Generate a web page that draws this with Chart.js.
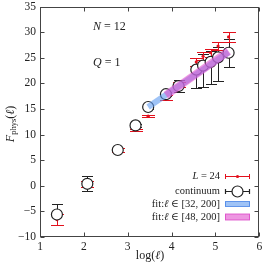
<!DOCTYPE html>
<html>
<head>
<meta charset="utf-8">
<script src="https://cdn.jsdelivr.net/npm/chart.js@4.4.1/dist/chart.umd.min.js"></script>
<style>html,body{margin:0;padding:0;background:#fff}</style>
</head>
<body>
<canvas id="c" width="266" height="266"></canvas>
<script>
// x = log(l)
const logL = [1.386, 2.079, 2.773, 3.178, 3.466, 3.871, 4.159, 4.564, 4.718, 4.89, 5.06, 5.30];
const contY = [-5.6, 0.4, 7.0, 11.8, 15.4, 17.9, 19.5, 22.7, 23.5, 24.2, 25.1, 26.0];
const contUp = [2.1, 1.5, 0.3, 0.3, 0.3, 0.4, 1.2, 2.2, 2.2, 2.2, 2.1, 2.6];
const contDown = [2.1, 1.5, 0.3, 0.3, 0.3, 0.4, 1.2, 3.6, 4.2, 4.4, 4.7, 2.7];
const l24Y = [-6.6, 0.3, 7.0, 10.9, 13.6, 17.3, 19.8, 24.2, 25.3, 26.0, 27.3, 29.1];
const l24Err = [1.1, 0.6, 0.3, 0.2, 0.2, 0.5, 0.5, 0.7, 0.8, 0.8, 0.8, 0.9];
const fit32X = [3.466, 5.30];
const fit32Y = [15.4, 26.1];
const fit48X = [3.871, 5.30];
const fit48Y = [17.7, 26.3];
const xTicks = [1, 2, 3, 4, 5, 6];
const yTicks = [-10, -5, 0, 5, 10, 15, 20, 25, 30, 35];

const FONT = "'Liberation Serif', 'DejaVu Serif', serif";
const RED = "#e3101c";
const INK = "#222";
const BLUE = "rgba(95,155,240,0.6)";
const PINK = "rgba(225,80,205,0.6)";

function pts(xs, ys) {
    return xs.map((x, i) => ({ x: x, y: ys[i] }));
}

function drawParts(ctx, parts, x, y, align) {
    let w = 0;
    parts.forEach(p => { ctx.font = p[1]; w += ctx.measureText(p[0]).width; });
    let cx = align === "right" ? x - w : (align === "center" ? x - w / 2 : x);
    parts.forEach(p => {
        ctx.font = p[1];
        ctx.fillText(p[0], cx, y + (p[2] || 0));
        cx += ctx.measureText(p[0]).width;
    });
}

const errorBars = {
    id: "errorBars",
    beforeDatasetsDraw(chart) {
        const ctx = chart.ctx;
        const xs = chart.scales.x, ys = chart.scales.y;
        ctx.save();
        ctx.lineWidth = 1;
        const bar = (x, v, up, down, half, color) => {
            const px = Math.round(xs.getPixelForValue(x)) + 0.5;
            const t = Math.round(ys.getPixelForValue(v + up)) + 0.5;
            const b = Math.round(ys.getPixelForValue(v - down)) + 0.5;
            ctx.strokeStyle = color;
            ctx.beginPath();
            ctx.moveTo(px, t); ctx.lineTo(px, b);
            ctx.moveTo(px - half, t); ctx.lineTo(px + half, t);
            ctx.moveTo(px - half, b); ctx.lineTo(px + half, b);
            ctx.stroke();
        };
        logL.forEach((x, i) => bar(x, contY[i], contUp[i], contDown[i], 5.5, INK));
        logL.forEach((x, i) => bar(x, l24Y[i], l24Err[i], l24Err[i], 6.5, RED));
        ctx.restore();
    }
};

const frame = {
    id: "frame",
    afterDraw(chart) {
        const ctx = chart.ctx;
        const a = chart.chartArea;
        const xs = chart.scales.x, ys = chart.scales.y;
        const L = Math.round(a.left) + 0.5, R = Math.round(a.right) - 0.5;
        const T = Math.round(a.top) + 0.5, B = Math.round(a.bottom) - 0.5;
        ctx.save();
        ctx.strokeStyle = "#444";
        ctx.lineWidth = 1;
        ctx.strokeRect(L, T, R - L, B - T);
        ctx.beginPath();
        xTicks.forEach(v => {
            const px = Math.round(xs.getPixelForValue(v)) + 0.5;
            ctx.moveTo(px, B); ctx.lineTo(px, B - 4);
            ctx.moveTo(px, T); ctx.lineTo(px, T + 4);
        });
        yTicks.forEach(v => {
            const py = Math.round(ys.getPixelForValue(v)) + 0.5;
            ctx.moveTo(L, py); ctx.lineTo(L + 4, py);
            ctx.moveTo(R, py); ctx.lineTo(R - 4, py);
        });
        ctx.stroke();

        ctx.fillStyle = INK;
        ctx.font = "11.5px " + FONT;
        ctx.textBaseline = "middle";
        ctx.textAlign = "center";
        xTicks.forEach(v => ctx.fillText(String(v), xs.getPixelForValue(v), 247));
        ctx.textAlign = "right";
        yTicks.forEach(v => ctx.fillText(String(v).replace("-", "\u2212"), 36, ys.getPixelForValue(v)));

        ctx.textAlign = "left";
        const it = "italic 12px " + FONT, rm = "12px " + FONT;
        drawParts(ctx, [["log(", rm], ["\u2113", it], [")", rm]], 150, 256, "center");
        drawParts(ctx, [["N", it], [" = 12", rm]], 93, 27, "left");
        drawParts(ctx, [["Q", it], [" = 1", rm]], 93, 63, "left");

        ctx.save();
        ctx.translate(11, 124);
        ctx.rotate(-Math.PI / 2);
        drawParts(ctx, [["F", it], ["phys", "8.5px " + FONT, 3], ["(", rm], ["\u2113", it], [")", rm]], 0, 0, "center");
        ctx.restore();

        // legend
        const lf = "10.5px " + FONT, li = "italic 10.5px " + FONT;
        const rows = [176, 191, 204, 217];
        drawParts(ctx, [["L", li], [" = 24", lf]], 220, rows[0], "right");
        drawParts(ctx, [["continuum", lf]], 220, rows[1], "right");
        drawParts(ctx, [["fit:", lf], ["\u2113", li], [" \u2208 [32, 200]", lf]], 220, rows[2], "right");
        drawParts(ctx, [["fit:", lf], ["\u2113", li], [" \u2208 [48, 200]", lf]], 220, rows[3], "right");

        const x0 = 225, x1 = 250, xm = 237.5;
        ctx.lineWidth = 1;
        ctx.strokeStyle = RED;
        ctx.beginPath();
        let y = rows[0] + 0.5;
        ctx.moveTo(x0, y); ctx.lineTo(x1, y);
        ctx.moveTo(x0 + 0.5, y - 2.5); ctx.lineTo(x0 + 0.5, y + 2.5);
        ctx.moveTo(x1 - 0.5, y - 2.5); ctx.lineTo(x1 - 0.5, y + 2.5);
        ctx.stroke();
        ctx.fillStyle = RED;
        ctx.beginPath(); ctx.arc(xm, y, 1.6, 0, Math.PI * 2); ctx.fill();

        ctx.strokeStyle = INK;
        ctx.lineWidth = 1.2;
        y = rows[1] + 0.5;
        ctx.beginPath();
        ctx.moveTo(x0, y); ctx.lineTo(x1, y);
        ctx.moveTo(x0 + 0.5, y - 2.5); ctx.lineTo(x0 + 0.5, y + 2.5);
        ctx.moveTo(x1 - 0.5, y - 2.5); ctx.lineTo(x1 - 0.5, y + 2.5);
        ctx.stroke();
        ctx.fillStyle = "#fff";
        ctx.beginPath(); ctx.arc(xm, y, 5.5, 0, Math.PI * 2); ctx.fill(); ctx.stroke();

        ctx.lineWidth = 1;
        ctx.fillStyle = BLUE;
        ctx.strokeStyle = "rgba(70,130,230,0.8)";
        ctx.fillRect(x0, rows[2] - 2.5, x1 - x0, 5);
        ctx.strokeRect(x0 + 0.5, rows[2] - 2.5, x1 - x0 - 1, 5);
        ctx.fillStyle = PINK;
        ctx.strokeStyle = "rgba(220,70,200,0.8)";
        ctx.fillRect(x0, rows[3] - 3, x1 - x0, 6);
        ctx.strokeRect(x0 + 0.5, rows[3] - 3, x1 - x0 - 1, 6);
        ctx.restore();
    }
};

new Chart(document.getElementById("c"), {
    type: "scatter",
    data: {
        datasets: [
            {
                label: "fit:l in [48, 200]",
                data: pts(fit48X, fit48Y),
                showLine: true,
                borderColor: PINK,
                borderWidth: 8,
                borderCapStyle: "butt",
                pointRadius: 0,
                order: 0,
            },
            {
                label: "fit:l in [32, 200]",
                data: pts(fit32X, fit32Y),
                showLine: true,
                borderColor: BLUE,
                borderWidth: 6,
                borderCapStyle: "butt",
                pointRadius: 0,
                order: 1,
            },
            {
                label: "continuum",
                data: pts(logL, contY),
                pointRadius: 5.5,
                pointBackgroundColor: "#fff",
                pointBorderColor: INK,
                pointBorderWidth: 1.2,
                order: 2,
            },
            {
                label: "L = 24",
                data: pts(logL, l24Y),
                pointRadius: 1.6,
                pointBackgroundColor: RED,
                pointBorderWidth: 0,
                order: 3,
            },
        ],
    },
    options: {
        responsive: false,
        animation: false,
        devicePixelRatio: 1,
        layout: { padding: { left: 40, top: 5, right: 6, bottom: 29 } },
        scales: {
            x: { type: "linear", min: 1, max: 6, display: false },
            y: { type: "linear", min: -10, max: 35, display: false },
        },
        plugins: { legend: { display: false }, tooltip: { enabled: false } },
    },
    plugins: [errorBars, frame],
});
</script>
</body>
</html>
